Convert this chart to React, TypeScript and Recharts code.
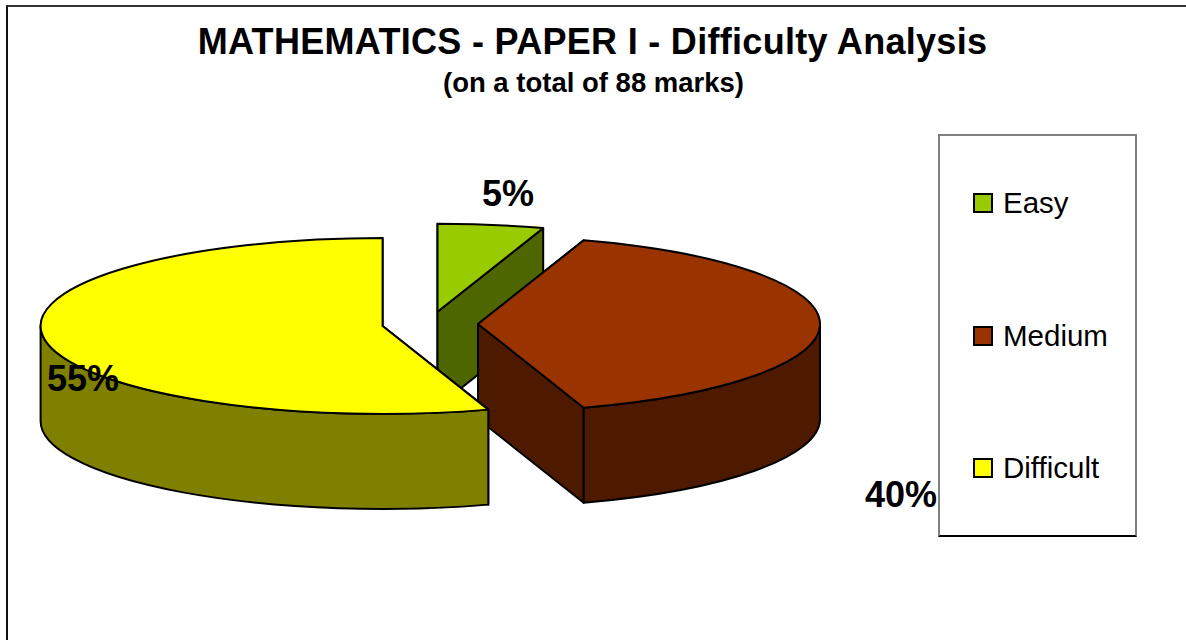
import React from "react";
import { PieChart, Pie, Legend } from "recharts";

const CATEGORIES = ["Easy", "Medium", "Difficult"];
const SHARES = [5, 40, 55];
const TOP_COLORS = ["#99CC00", "#993300", "#FFFF00"];
const WALL_COLORS = ["#4D6600", "#4D1A00", "#808000"];

const pieData = CATEGORIES.map((name, i) => ({
  name,
  value: SHARES[i],
  fill: TOP_COLORS[i],
  wall: WALL_COLORS[i],
}));

// 3D look of the original: flattened disc, pulled apart slices
const TILT = 88 / 342;
const DEPTH = 95;
const EXPLODE = 48;

const LABEL_SPOTS: Record<string, [number, number]> = {
  Easy: [508, 206],
  Medium: [901, 507],
  Difficult: [83, 391],
};

const rad = (deg: number) => (deg * Math.PI) / 180;

function Slice3D(props: any) {
  const { cx, cy, outerRadius: r, startAngle, endAngle, midAngle, fill, payload } = props;
  const ox = cx + EXPLODE * Math.cos(rad(midAngle));
  const oy = cy - EXPLODE * Math.sin(rad(midAngle)) * TILT;
  const ry = r * TILT;
  const rim = (a: number, drop = 0) =>
    `${ox + r * Math.cos(rad(a))} ${oy - ry * Math.sin(rad(a)) + drop}`;
  const wall = payload.wall;
  const line = { stroke: "#000", strokeWidth: 2, strokeLinejoin: "round" as const };

  const sweep = Math.abs(endAngle - startAngle);
  const top = `M${ox} ${oy} L${rim(startAngle)} A${r} ${ry} 0 ${sweep > 180 ? 1 : 0} 1 ${rim(endAngle)} Z`;

  const face = (a: number) => `M${ox} ${oy} L${rim(a)} L${rim(a, DEPTH)} L${ox} ${oy + DEPTH} Z`;
  // cut faces back to front
  const cuts = [startAngle, endAngle].sort((a, b) => Math.sin(rad(b)) - Math.sin(rad(a)));

  // only the front half of the rim shows
  const from = Math.min(startAngle, 0);
  const to = Math.max(endAngle, -180);
  const side =
    from > to
      ? `M${rim(from)} A${r} ${ry} 0 0 1 ${rim(to)} L${rim(to, DEPTH)} A${r} ${ry} 0 0 0 ${rim(from, DEPTH)} Z`
      : null;

  return (
    <g>
      {cuts.map((a) => (
        <path key={a} d={face(a)} fill={wall} {...line} />
      ))}
      {side && <path d={side} fill={wall} {...line} />}
      <path d={top} fill={fill} {...line} />
    </g>
  );
}

function renderLabel(props: any) {
  const [x, y] = LABEL_SPOTS[props.name];
  return (
    <text
      x={x}
      y={y}
      textAnchor="middle"
      fontFamily="Liberation Sans"
      fontWeight="bold"
      fontSize={36}
      fill="#000"
    >
      {`${Math.round(props.percent * 100)}%`}
    </text>
  );
}

function LegendBox({ payload }: any) {
  return (
    <div
      style={{
        boxSizing: "border-box",
        width: 199,
        height: 403,
        background: "#fff",
        borderTop: "2px solid #808080",
        borderLeft: "2px solid #808080",
        borderRight: "2px solid #808080",
        borderBottom: "2px solid #000",
        position: "relative",
        fontFamily: "Liberation Sans",
        fontSize: 29.5,
        color: "#000",
      }}
    >
      {(payload || []).map((entry: any, i: number) => (
        <div
          key={entry.value}
          style={{ position: "absolute", left: 33, top: 49 + i * 132.5, height: 36, display: "flex", alignItems: "center" }}
        >
          <span
            style={{
              boxSizing: "border-box",
              width: 20,
              height: 20,
              background: entry.color,
              border: "2px solid #000",
              marginRight: 10,
            }}
          />
          {entry.value}
        </div>
      ))}
    </div>
  );
}

export default function App() {
  return (
    <div style={{ position: "absolute", left: 0, top: 0, width: 1186, height: 640, background: "#fff", overflow: "hidden" }}>
      <div
        style={{
          position: "absolute",
          left: 6,
          top: 5,
          width: 1200,
          height: 700,
          borderLeft: "2px solid #111",
          borderTop: "2px solid #333",
        }}
      />
      <PieChart width={1186} height={640} margin={{ top: 0, right: 0, bottom: 0, left: 0 }} style={{ position: "absolute", left: 0, top: 0 }}>
        <text x={592.5} y={54} textAnchor="middle" fontFamily="Liberation Sans" fontWeight="bold" fontSize={36} letterSpacing={0.3} fill="#000">
          MATHEMATICS - PAPER I - Difficulty Analysis
        </text>
        <text x={593.5} y={92} textAnchor="middle" fontFamily="Liberation Sans" fontWeight="bold" fontSize={27.5} fill="#000">
          (on a total of 88 marks)
        </text>
        <Pie
          data={pieData}
          dataKey="value"
          nameKey="name"
          cx={430}
          cy={324}
          outerRadius={342}
          startAngle={90}
          endAngle={-270}
          stroke="#000"
          shape={Slice3D}
          label={renderLabel}
          labelLine={false}
          isAnimationActive={false}
        />
        <Legend
          layout="vertical"
          align="right"
          verticalAlign="middle"
          itemSorter={null}
          content={<LegendBox />}
          wrapperStyle={{ position: "absolute", left: 938, top: 134, width: 199, height: 403, right: "auto", bottom: "auto" }}
        />
      </PieChart>
    </div>
  );
}
